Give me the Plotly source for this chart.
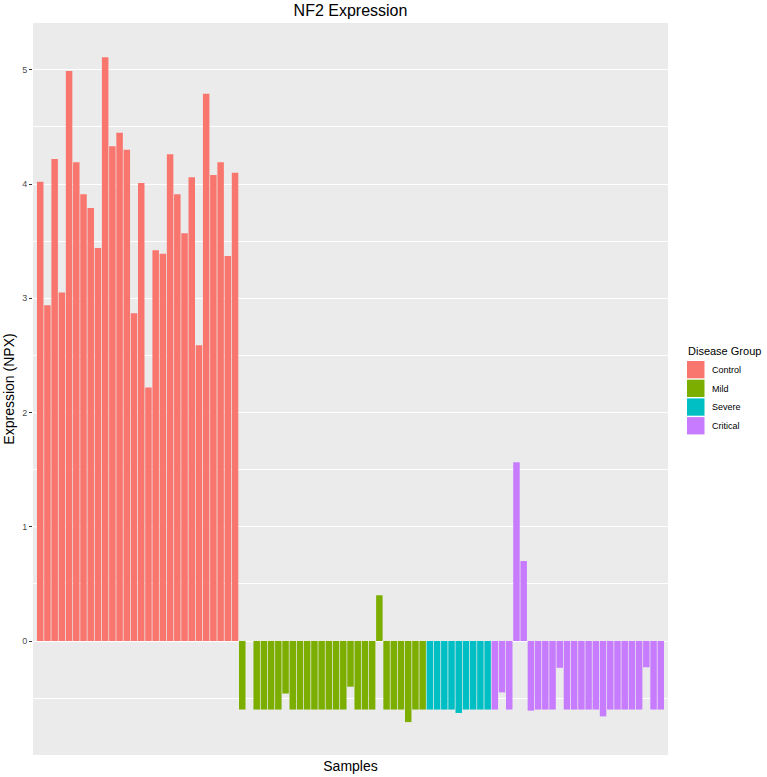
import numpy as np
import plotly.graph_objects as go

# NPX values per sample, in plotting order
control = [4.02, 2.94, 4.22, 3.05, 4.99, 4.19, 3.91, 3.79, 3.44, 5.11,
           4.33, 4.45, 4.30, 2.87, 4.01, 2.22, 3.42, 3.39, 4.26, 3.91,
           3.57, 4.06, 2.59, 4.79, 4.08, 4.19, 3.37, 4.10]
mild = [-0.60, None, -0.60, -0.60, -0.60, -0.60, -0.46, -0.60, -0.60, -0.60,
        -0.60, -0.60, -0.60, -0.60, -0.60, -0.40, -0.60, -0.60, -0.60, 0.40,
        -0.60, -0.60, -0.60, -0.71, -0.60, -0.60]
severe = [-0.60, -0.60, -0.60, -0.60, -0.63, -0.60, -0.60, -0.60, -0.60]
critical = [-0.60, -0.45, -0.60, 1.565, 0.70, -0.61, -0.60, -0.60, -0.60, -0.235,
            -0.60, -0.60, -0.60, -0.60, -0.60, -0.66, -0.60, -0.60, -0.60, -0.60,
            -0.60, -0.23, -0.60, -0.60]

groups = ["Control", "Mild", "Severe", "Critical"]
colors = ["#F8766D", "#7CAE00", "#00BFC4", "#C77CFF"]
series = [control, mild, severe, critical]

W, H = 767, 777
L, R, T, B = 33, 99, 23, 22
plot_w, plot_h = W - L - R, H - T - B


def px_x(x):
    # page pixel -> paper x
    return (x - L) / plot_w


def px_y(y):
    # page pixel -> paper y
    return (H - B - y) / plot_h


fig = go.Figure()

start = 1
for name, color, vals in zip(groups, colors, series):
    x = np.arange(start, start + len(vals))
    start += len(vals)
    fig.add_trace(go.Bar(
        x=x, y=vals, name=name, width=0.9, showlegend=False,
        marker=dict(color=color, line=dict(width=0)),
    ))

n_total = start - 1

# ggplot-like legend drawn by hand (bigger keys than plotly's own)
shapes = []
annotations = [dict(
    text="Disease Group", xref="paper", yref="paper",
    x=px_x(686), y=px_y(351), xanchor="left", yanchor="middle",
    showarrow=False, font=dict(size=11, color="black"),
)]
for i, (name, color) in enumerate(zip(groups, colors)):
    top = 361 + i * 18.7
    shapes.append(dict(
        type="rect", xref="paper", yref="paper",
        x0=px_x(687), x1=px_x(704.5), y0=px_y(top + 17.3), y1=px_y(top),
        fillcolor=color, line=dict(width=0),
    ))
    annotations.append(dict(
        text=name, xref="paper", yref="paper",
        x=px_x(710), y=px_y(top + 8.8), xanchor="left", yanchor="middle",
        showarrow=False, font=dict(size=9, color="black"),
    ))

fig.update_layout(
    width=W, height=H,
    margin=dict(l=L, r=R, t=T, b=B),
    barmode="overlay",
    showlegend=False,
    paper_bgcolor="white",
    plot_bgcolor="#EBEBEB",
    font=dict(family="Arial, Liberation Sans, sans-serif", color="black"),
    title=dict(
        text="NF2 Expression",
        x=0.5, xref="paper", xanchor="center",
        y=1 - 10 / H, yanchor="middle",
        font=dict(size=16, color="black"),
    ),
    shapes=shapes,
    annotations=annotations,
)

fig.update_xaxes(
    range=[0, n_total + 1],
    showgrid=False, zeroline=False,
    showticklabels=False, ticks="",
    title=dict(text="Samples", font=dict(size=14), standoff=6),
    automargin=False,
)

fig.update_yaxes(
    range=[-0.998, 5.41],
    dtick=1, tick0=0,
    showgrid=True, gridcolor="white", gridwidth=1.1,
    minor=dict(dtick=0.5, tick0=0, showgrid=True, gridcolor="white", gridwidth=0.5),
    zeroline=False,
    ticks="outside", ticklen=3, tickcolor="#333333", tickwidth=1,
    tickfont=dict(size=9, color="#4D4D4D"),
    title=dict(text="Expression (NPX)", font=dict(size=14), standoff=4),
    automargin=False,
)

# drop the browser's default 8px body margin so the figure sits at 0,0
fig.write_html(
    "out.html",
    config={"displayModeBar": False},
    post_script="document.body.style.margin='0';",
)
